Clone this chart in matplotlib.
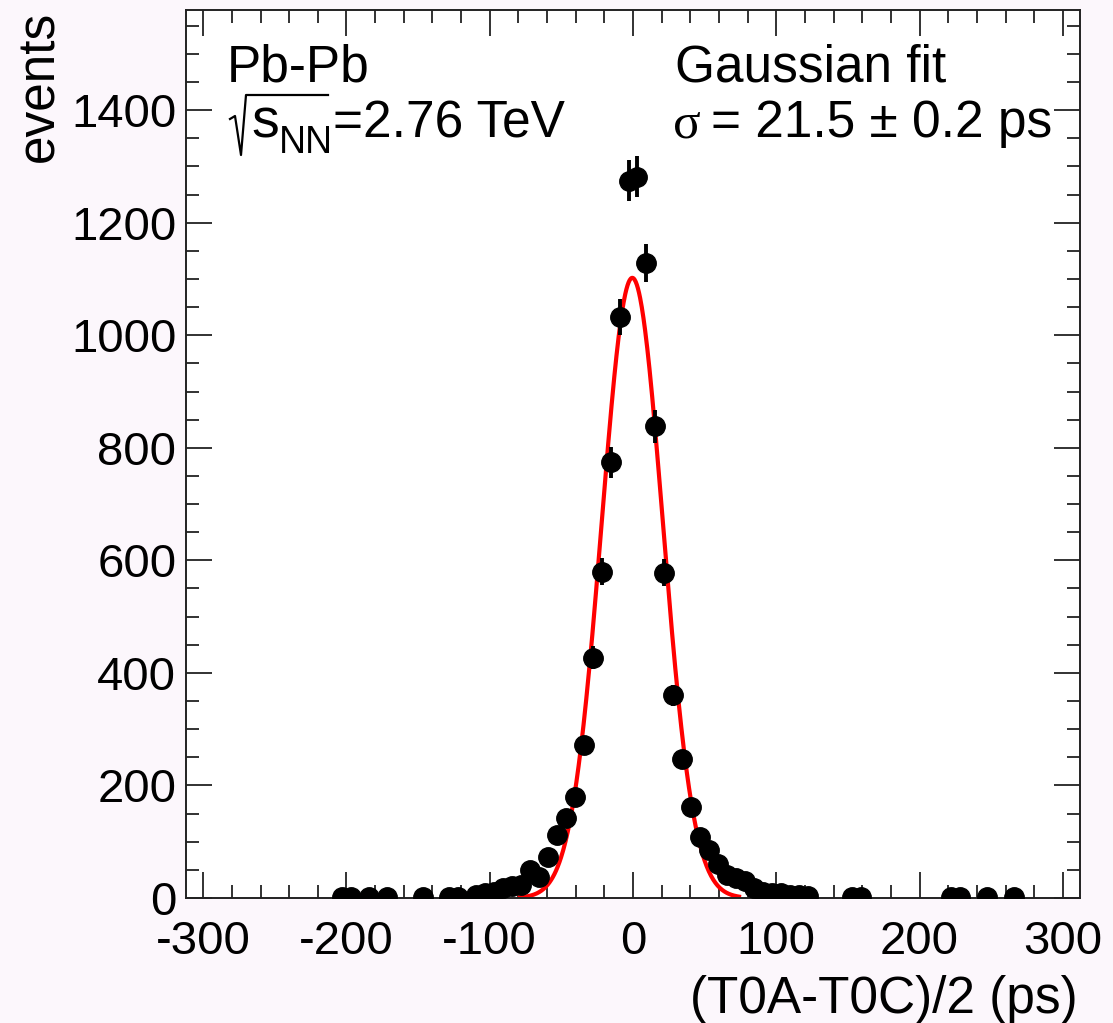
import numpy as np
import matplotlib
matplotlib.use("Agg")
import matplotlib.pyplot as plt
from matplotlib.lines import Line2D
from matplotlib.ticker import MultipleLocator

# Histogram of (T0A-T0C)/2, bin width 6.25 ps (bin centres, counts)
BIN_CENTERS = [-203.125, -196.875, -184.375, -171.875, -146.875, -128.125, -121.875,
               -109.375, -103.125, -96.875, -90.625, -84.375, -78.125, -71.875,
               -65.625, -59.375, -53.125, -46.875, -40.625, -34.375, -28.125,
               -21.875, -15.625, -9.375, -3.125, 3.125, 9.375, 15.625, 21.875,
               28.125, 34.375, 40.625, 46.875, 53.125, 59.375, 65.625, 71.875,
               78.125, 84.375, 90.625, 96.875, 103.125, 109.375, 115.625, 121.875,
               153.125, 159.375, 221.875, 228.125, 246.875, 265.625]
COUNTS = [1, 1, 1, 1, 1, 2, 2,
          5, 8, 11, 17, 21, 23, 50,
          38, 72, 112, 143, 180, 272, 427,
          580, 774, 1033, 1275, 1282, 1128, 838, 578,
          360, 247, 162, 108, 85, 60, 40, 35,
          30, 18, 11, 9, 8, 6, 5, 3,
          1, 1, 1, 1, 1, 1]

# Gaussian fit parameters and range
FIT_AMP = 1102
FIT_MEAN = -0.5
FIT_SIGMA = 21.3
FIT_RANGE = (-79, 74)

FONT = "Liberation Sans"
plt.rcParams["font.family"] = [FONT, "DejaVu Sans"]
plt.rcParams["axes.unicode_minus"] = False

W, H = 1113, 1023
fig = plt.figure(figsize=(W / 100, H / 100), dpi=100, facecolor="#fcf7fc")
ax = fig.add_axes([186 / W, 1 - 898 / H, (1080 - 186) / W, (898 - 10) / H])
ax.set_facecolor("white")

x = np.array(BIN_CENTERS)
y = np.array(COUNTS, dtype=float)
ax.errorbar(x, y, yerr=np.sqrt(y), fmt="o", color="black", ms=14,
            elinewidth=2.8, capsize=0, zorder=3)

xf = np.linspace(FIT_RANGE[0], FIT_RANGE[1], 400)
ax.plot(xf, FIT_AMP * np.exp(-0.5 * ((xf - FIT_MEAN) / FIT_SIGMA) ** 2),
        color="red", lw=3, zorder=2)

ax.set_xlim(-312, 312)
ax.set_ylim(0, 1578)
ax.xaxis.set_major_locator(MultipleLocator(100))
ax.xaxis.set_minor_locator(MultipleLocator(20))
ax.yaxis.set_major_locator(MultipleLocator(200))
ax.yaxis.set_minor_locator(MultipleLocator(50))
ax.tick_params(which="both", direction="in", top=True, right=True,
               labelsize=34, width=1.3, color="#222222")
ax.tick_params(which="major", length=19)
ax.tick_params(which="minor", length=9.5)
ax.tick_params(axis="x", pad=16)
ax.tick_params(axis="y", pad=7)
for s in ax.spines.values():
    s.set_linewidth(1.4)
    s.set_color("#222222")

fig.text(40 / W, 1 - 11 / H, "events", rotation=90, ha="center", va="top",
         fontsize=37)
fig.text(1078 / W, 1 - 1013 / H, "(T0A-T0C)/2 (ps)", ha="right",
         va="baseline", fontsize=37)

def px(xp, yp):
    return xp / W, 1 - yp / H

fig.text(*px(227, 82), "Pb-Pb", fontsize=37, va="baseline")

# sqrt(s_NN) drawn by hand, ROOT TLatex style
rx = [230, 235, 241, 246, 328]
ry = [119, 116, 155, 95, 95]
fig.add_artist(Line2D([v / W for v in rx], [1 - v / H for v in ry],
                      transform=fig.transFigure, color="black", lw=1.6))
fig.text(*px(251, 138), "s", fontsize=40, va="baseline")
fig.text(*px(279, 153), "NN", fontsize=27, va="baseline")
fig.text(*px(333, 138), "=2.76 TeV", fontsize=37, va="baseline")

fig.text(*px(675, 82), "Gaussian fit", fontsize=37, va="baseline")
fig.text(*px(673, 137), "\u03c3", fontsize=37, va="baseline",
         family=["Liberation Serif", "DejaVu Serif"])
fig.text(*px(711, 137), "= 21.5 \u00b1 0.2 ps", fontsize=37, va="baseline")

fig.savefig("out.png", dpi=100, facecolor=fig.get_facecolor())
